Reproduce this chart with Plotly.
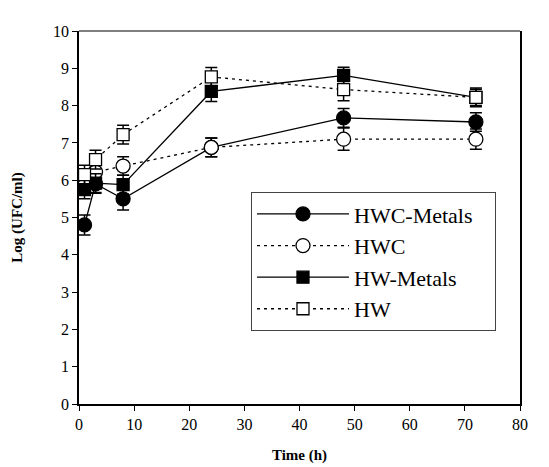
import plotly.graph_objects as go

time_h = [1, 3, 8, 24, 48, 72]

hwc_metals = [4.8, 5.9, 5.5, 6.88, 7.67, 7.56]
hwc_metals_err = [0.27, 0.25, 0.3, 0.25, 0.25, 0.25]

hwc = [5.85, 6.22, 6.38, 6.88, 7.1, 7.1]
hwc_err = [0.25, 0.25, 0.25, 0.25, 0.3, 0.27]

hw_metals = [5.75, 5.92, 5.88, 8.38, 8.81, 8.22]
hw_metals_err = [0.25, 0.25, 0.25, 0.27, 0.22, 0.25]

hw = [6.15, 6.55, 7.22, 8.77, 8.43, 8.22]
hw_err = [0.25, 0.25, 0.25, 0.25, 0.3, 0.22]

series = [
    ("HWC-Metals", hwc_metals, hwc_metals_err, "solid", "circle", "black"),
    ("HWC", hwc, hwc_err, "3px,4px", "circle", "white"),
    ("HW-Metals", hw_metals, hw_metals_err, "solid", "square", "black"),
    ("HW", hw, hw_err, "3px,4px", "square", "white"),
]

pad = "\u00a0" * 3
fig = go.Figure()
for name, vals, err, dash, sym, fill in series:
    fig.add_trace(go.Scatter(
        x=time_h, y=vals, name=name + pad, mode="lines+markers",
        line=dict(color="black", width=1.3, dash=dash),
        marker=dict(symbol=sym, size=14 if sym == "circle" else 12, color=fill,
                    line=dict(color="black", width=1.3)),
        error_y=dict(type="data", array=err, visible=True, color="black",
                     thickness=1.5, width=6),
    ))

FF = "Times New Roman, Liberation Serif, serif"
tickfont = dict(family=FF, size=16, color="black")

fig.update_layout(
    width=549, height=467,
    margin=dict(l=71, r=37, t=23, b=71),
    paper_bgcolor="white", plot_bgcolor="white",
    font=dict(family=FF, size=16, color="black"),
    showlegend=True,
    legend=dict(
        x=0.39, y=0.568, xanchor="left", yanchor="top",
        bgcolor="white", bordercolor="#444", borderwidth=1,
        font=dict(family=FF, size=22, color="black"),
        itemwidth=92,
    ),
    xaxis=dict(
        range=[0, 80], tickvals=list(range(0, 81, 10)), tickfont=tickfont,
        showline=True, linecolor="black", linewidth=1.5, automargin=False,
        ticks="outside", ticklen=5, tickcolor="black",
        showgrid=False, zeroline=False,
        title=dict(text="<b>Time (h)</b>", font=dict(family=FF, size=15), standoff=18),
    ),
    yaxis=dict(
        range=[0, 10], tickvals=list(range(0, 11)), tickfont=tickfont,
        showline=True, linecolor="black", linewidth=1.5, mirror=True, automargin=False,
        ticks="outside", ticklen=5, tickcolor="black",
        showgrid=False, zeroline=False,
        title=dict(text="<b>Log (UFC/ml)</b>", font=dict(family=FF, size=15), standoff=27),
    ),
    shapes=[dict(type="line", xref="paper", yref="paper", x0=0, x1=1, y0=1, y1=1,
                 line=dict(color="#555", width=1.5))],
)

fig.write_html("out.html")
